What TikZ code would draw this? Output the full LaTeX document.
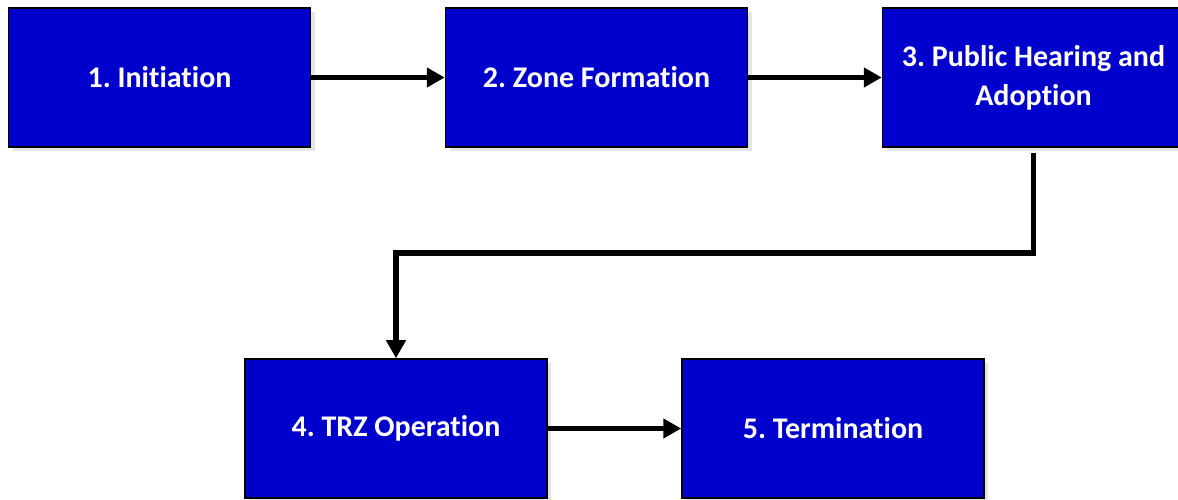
\documentclass[tikz,border=0pt]{standalone}
\usepackage{fontspec}
\setmainfont{Carlito}[RawFeature={-liga;-clig;-calt;-dlig}]
\frenchspacing
\usetikzlibrary{calc,positioning,arrows.meta,shadows}
\definecolor{stageblue}{RGB}{0,0,204}

\begin{document}
\begin{tikzpicture}[
  x=1pt,y=1pt,
  node distance=133.5pt,
  stage/.style={draw=black,line width=1.5pt,fill=stageblue,rectangle,
    minimum width=302pt,minimum height=139pt,inner sep=0pt,
    text=white,align=center,font=\fontsize{30}{39}\selectfont\bfseries,
    drop shadow={shadow xshift=4pt,shadow yshift=-4pt,fill=black!10,opacity=1}},
  flow/.style={line width=5.5pt,-{Triangle[length=18pt,width=19pt]}},
  ]

  \useasboundingbox (0,0) rectangle (1178,500);

  \node (init) [stage] at(159.5,422.5) {1. Initiation};
  \node (zone) [stage,right=of init] {2. Zone Formation};
  \node (hear) [stage,right=of zone] {3. Public Hearing and\\Adoption};

  \node (oper) [stage] at(396,71.5) {4. TRZ Operation};
  \node (term) [stage,right=of oper] {5. Termination};

  \coordinate (bend) at(0,247);

  \draw[flow] (init) -- (zone);
  \draw[flow] (zone) -- (hear);
  \draw[flow,shorten <=5pt] (hear.south) -- (hear.south |- bend) -- (oper.north |- bend) -- (oper.north);
  \draw[flow] (oper) -- (term);

\end{tikzpicture}
\end{document}
